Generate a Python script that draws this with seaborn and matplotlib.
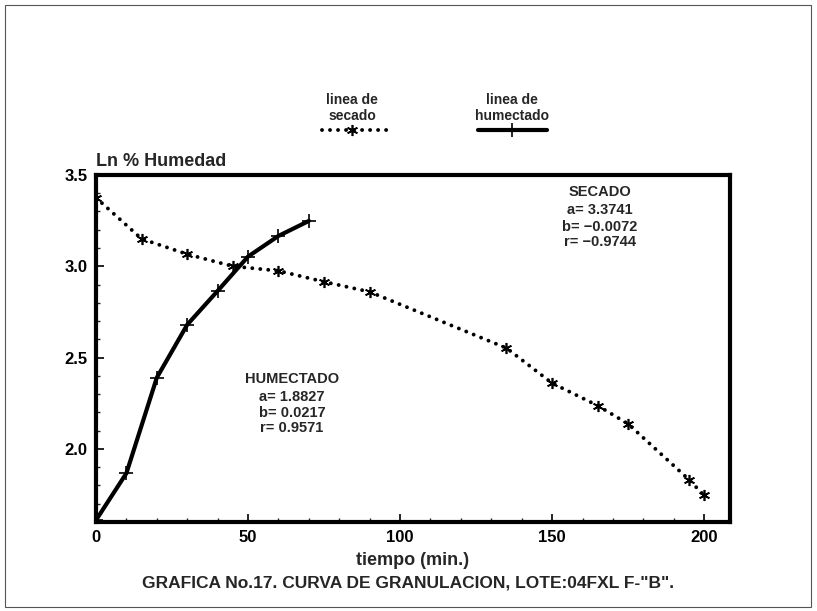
import matplotlib
matplotlib.use("Agg")
import matplotlib.pyplot as plt
from matplotlib.lines import Line2D
from matplotlib.patches import Rectangle
import seaborn as sns
import pandas as pd
import numpy as np

# ---- data ----
secado_t = [0, 15, 30, 45, 60, 75, 90, 135, 150, 165, 175, 195, 200]
secado_ln = [3.375, 3.15, 3.066, 3.0, 2.975, 2.915, 2.86, 2.552, 2.36, 2.237, 2.137, 1.832, 1.745]
humectado_t = [0, 10, 20, 30, 40, 50, 60, 70]
humectado_ln = [1.61, 1.867, 2.39, 2.68, 2.865, 3.053, 3.166, 3.248]
x_ticks = [0, 50, 100, 150, 200]
y_ticks = [2.0, 2.5, 3.0, 3.5]
secado_stats = ["SECADO", "a= 3.3741", "b= \u22120.0072", "r= \u22120.9744"]
humectado_stats = ["HUMECTADO", "a= 1.8827", "b= 0.0217", "r= 0.9571"]

sns.set_theme(style="ticks")
plt.rcParams['font.family'] = ['Liberation Sans', 'DejaVu Sans']
plt.rcParams['font.weight'] = 'bold'

W, H = 817, 611
fig = plt.figure(figsize=(8.17, 6.11), dpi=100)
ax = fig.add_axes([0.1175, 0.1457, 0.776, 0.568])

df_s = pd.DataFrame({"t": secado_t, "ln": secado_ln})
df_h = pd.DataFrame({"t": humectado_t, "ln": humectado_ln})

dot_style = dict(color="black", lw=2.8, linestyle=(0, (0.01, 2.05)),
                 dash_capstyle="round")
sns.lineplot(data=df_s, x="t", y="ln", ax=ax, marker=(6, 2, 0), markersize=8,
             markeredgewidth=1.2, markeredgecolor="black", **dot_style)
sns.lineplot(data=df_h, x="t", y="ln", ax=ax, color="black", lw=3.0,
             marker="+", markersize=10, markeredgewidth=1.2,
             markeredgecolor="black", solid_capstyle="round")

ax.set_xlim(0, 208.5)
ax.set_ylim(1.6, 3.5)
ax.set_xticks(x_ticks)
ax.set_yticks(y_ticks)
ax.set_xticklabels([str(v) for v in x_ticks], fontsize=12, fontweight="bold")
ax.set_yticklabels([f"{v:.1f}" for v in y_ticks], fontsize=12, fontweight="bold")
ax.set_xticks(np.arange(0, 209, 10), minor=True)
ax.set_yticks(np.arange(1.7, 3.5, 0.1), minor=True)
ax.tick_params(which="major", direction="in", length=6, width=1.2, pad=6, colors="black")
ax.tick_params(which="minor", direction="in", length=3, width=1.0)
for s in ax.spines.values():
    s.set_visible(True)
    s.set_linewidth(3.0)
    s.set_color("black")
ax.set_xlabel("tiempo (min.)", fontsize=13, fontweight="bold", labelpad=5)
ax.set_ylabel("")
ax.text(0.0, 1.015, "Ln % Humedad", transform=ax.transAxes, fontsize=13,
        fontweight="bold", ha="left", va="bottom")

# statistics blocks (figure pixel positions)
sec_y = [192, 210, 227, 242]
for s, yp in zip(secado_stats, sec_y):
    fig.text(600 / W, 1 - yp / H, s, ha="center", va="center",
             fontsize=10.5, fontweight="bold")
hum_y = [379, 397, 413, 428]
for s, yp in zip(humectado_stats, hum_y):
    fig.text(292 / W, 1 - yp / H, s, ha="center", va="center",
             fontsize=10.5, fontweight="bold")

# custom legend (figure coordinates)
fig.text(352 / W, 1 - 108 / H, "linea de\nsecado", ha="center", va="center",
         fontsize=10, fontweight="bold", linespacing=1.1)
fig.text(512 / W, 1 - 108 / H, "linea de\nhumectado", ha="center", va="center",
         fontsize=10, fontweight="bold", linespacing=1.1)
yl = 1 - 130 / H
fig.add_artist(Line2D([322 / W, 388 / W], [yl, yl], transform=fig.transFigure,
                      **dot_style))
fig.add_artist(Line2D([352 / W], [yl], transform=fig.transFigure, marker=(6, 2, 0),
                      markersize=8, markeredgewidth=1.2, color="black", lw=0))
fig.add_artist(Line2D([478 / W, 547 / W], [yl, yl], transform=fig.transFigure,
                      color="black", lw=3.0))
fig.add_artist(Line2D([512 / W], [yl], transform=fig.transFigure, marker="+",
                      markersize=10, markeredgewidth=1.2, color="black", lw=0))

# caption
fig.text(408 / W, 1 - 583 / H,
         "GRAFICA No.17. CURVA DE GRANULACION, LOTE:04FXL F-\"B\".",
         ha="center", va="center", fontsize=12.5, fontweight="bold")

# outer frame
fig.add_artist(Rectangle((5 / W, 4 / H), 806 / W, 602 / H,
                         transform=fig.transFigure, fill=False,
                         edgecolor="#555555", lw=0.8))

fig.savefig("out.png", dpi=100)
